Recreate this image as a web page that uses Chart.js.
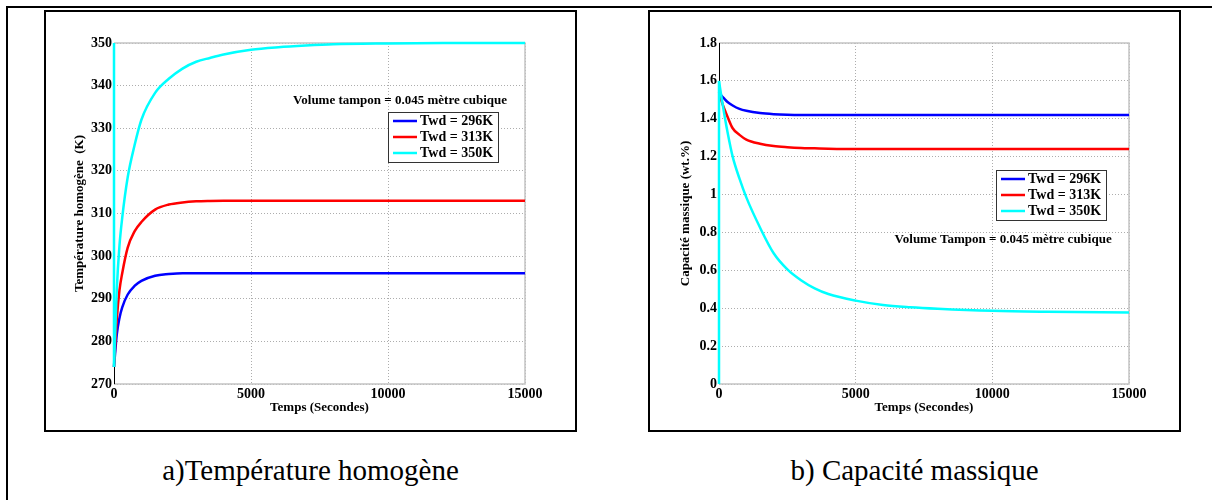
<!DOCTYPE html>
<html lang="fr">
<head>
<meta charset="utf-8">
<title>Température homogène et capacité massique</title>
<script src="https://cdn.jsdelivr.net/npm/chart.js@4.4.1/dist/chart.umd.min.js"></script>
<style>
  html, body { margin: 0; padding: 0; background: #fff; }
  #page { position: relative; width: 1212px; height: 500px; overflow: hidden; font-family: "Liberation Serif", "Times New Roman", serif; }
  .trait-haut { position: absolute; left: 6px; top: 6px; width: 1206px; height: 2px; background: #000; }
  .trait-gauche { position: absolute; left: 6px; top: 6px; width: 2px; height: 494px; background: #000; }
  .cadre { position: absolute; top: 10px; width: 533px; height: 422px; border: 2px solid #000; box-sizing: border-box; }
  .cadre canvas { position: absolute; left: 0; top: 0; }
  .legende { position: absolute; top: 454px; width: 533px; font-size: 29px; line-height: 32px; text-align: center; color: #000; }
</style>
</head>
<body>
<div id="page">
  <div class="trait-haut"></div>
  <div class="trait-gauche"></div>
  <div class="cadre" style="left:44px"><canvas id="temperature" width="529" height="418"></canvas></div>
  <div class="cadre" style="left:648px"><canvas id="capacite" width="529" height="418"></canvas></div>
  <div class="legende" style="left:44px">a)Température homogène</div>
  <div class="legende" style="left:648px">b) Capacité massique</div>
</div>
<script>
// temps (s) commun aux courbes
const temps = [0, 100, 200, 300, 500, 750, 1000, 1500, 2000, 2500, 3000, 3500, 4000, 5000, 6000, 7000, 8000, 10000, 12000, 15000];
const noms = ["Twd = 296K", "Twd = 313K", "Twd = 350K"];
const couleurs = ["#0000ff", "#ff0000", "#00ffff"];

// a) température homogène (K)
const temp296 = [274, 281.5, 285.5, 288, 291, 293, 294.2, 295.4, 295.8, 296, 296, 296, 296, 296, 296, 296, 296, 296, 296, 296];
const temp313 = [274, 285, 292, 296, 302, 305.8, 308, 310.9, 312.1, 312.6, 312.85, 312.95, 313, 313, 313, 313, 313, 313, 313, 313];
const temp350 = [274, 292, 302.5, 309, 318.5, 326, 332, 338.3, 341.6, 344, 345.6, 346.5, 347.3, 348.4, 349, 349.4, 349.7, 349.9, 350, 350];
const temp350Depart = [350, 274]; // trait vertical à t = 0

// b) capacité massique (wt.%)
const capa296 = [1.54, 1.52, 1.505, 1.49, 1.47, 1.452, 1.442, 1.43, 1.424, 1.421, 1.42, 1.42, 1.42, 1.42, 1.42, 1.42, 1.42, 1.42, 1.42, 1.42];
const capa313 = [1.54, 1.49, 1.45, 1.415, 1.35, 1.315, 1.29, 1.268, 1.256, 1.25, 1.246, 1.244, 1.242, 1.24, 1.24, 1.24, 1.24, 1.24, 1.24, 1.24];
const capa350 = [1.6, 1.506, 1.419, 1.339, 1.2, 1.084, 0.985, 0.826, 0.69, 0.605, 0.548, 0.505, 0.475, 0.44, 0.417, 0.405, 0.397, 0.386, 0.381, 0.377];
const capa350Depart = [0, 1.6];

const ticksTemps = [0, 5000, 10000, 15000];
const ticksTemp = [270, 280, 290, 300, 310, 320, 330, 340, 350];
const ticksCapa = [0, 0.2, 0.4, 0.6, 0.8, 1, 1.2, 1.4, 1.6, 1.8];

const policeGras = size => ({ family: '"Liberation Serif", "Times New Roman", serif', size: size, weight: 'bold' });

const cadrePlugin = {
    id: 'cadre',
    beforeDatasetsDraw(chart) {
        const { ctx, chartArea: a } = chart;
        ctx.save();
        ctx.strokeStyle = '#c4c4c4';
        ctx.lineWidth = 1.5;
        ctx.beginPath();
        ctx.moveTo(a.left, a.top);
        ctx.lineTo(a.right, a.top);
        ctx.lineTo(a.right, a.bottom);
        ctx.lineTo(a.left, a.bottom);
        ctx.stroke();
        ctx.strokeStyle = '#000';
        ctx.lineWidth = 1;
        ctx.beginPath();
        ctx.moveTo(a.left + 0.5, a.top);
        ctx.lineTo(a.left + 0.5, a.bottom);
        ctx.stroke();
        ctx.restore();
    },
    afterDatasetsDraw(chart, args, opts) {
        const { ctx, chartArea: a } = chart;
        const w = a.right - a.left, h = a.bottom - a.top;
        const bx = Math.round(a.left + opts.boiteX * w), by = Math.round(a.top + opts.boiteY * h);
        ctx.save();
        ctx.fillStyle = '#fff';
        ctx.fillRect(bx, by, 110, 50);
        ctx.strokeStyle = '#333';
        ctx.lineWidth = 1;
        ctx.strokeRect(bx + 0.5, by + 0.5, 110, 50);
        ctx.font = 'bold 14px "Liberation Serif"';
        ctx.textBaseline = 'middle';
        ctx.textAlign = 'left';
        noms.forEach((nom, i) => {
            const y = by + 9 + i * 16;
            ctx.strokeStyle = couleurs[i];
            ctx.lineWidth = 2.5;
            ctx.beginPath();
            ctx.moveTo(bx + 5, y);
            ctx.lineTo(bx + 29, y);
            ctx.stroke();
            ctx.fillStyle = '#000';
            ctx.fillText(nom, bx + 32, y);
        });
        ctx.font = 'bold 13px "Liberation Serif"';
        ctx.textAlign = 'center';
        ctx.fillText(opts.note, a.left + opts.noteX * w, a.top + opts.noteY * h);
        ctx.restore();
    }
};

function tracer(id, series, depart, yMin, yMax, yTicks, yTitre, yTitrePad, largeurY, cadre) {
    const courbes = series.map((valeurs, i) => ({
        label: noms[i],
        data: temps.map((t, k) => ({ x: t, y: valeurs[k] })),
        borderColor: couleurs[i],
        borderWidth: 2.5,
        pointRadius: 0,
        cubicInterpolationMode: 'monotone',
        clip: false,
    }));
    // cyan au-dessus : l'indice 0 est dessiné en dernier
    courbes.reverse();
    courbes.unshift({
        label: 'depart',
        data: depart.map(v => ({ x: 0, y: v })),
        borderColor: couleurs[2],
        borderWidth: 2.5,
        pointRadius: 0,
        clip: false,
    });

    new Chart(document.getElementById(id), {
        type: 'line',
        data: { datasets: courbes },
        options: {
            responsive: false,
            animation: false,
            layout: { padding: { left: 0, top: 31, right: 50, bottom: 6 } },
            plugins: { legend: { display: false }, tooltip: { enabled: false }, cadre: cadre },
            scales: {
                x: {
                    type: 'linear',
                    min: 0,
                    max: 15000,
                    afterBuildTicks: s => { s.ticks = ticksTemps.map(v => ({ value: v })); },
                    afterFit: s => { s.height = 40; },
                    ticks: { color: '#000', font: policeGras(14), padding: 2, maxRotation: 0, callback: v => String(v) },
                    grid: { color: 'rgba(0,0,0,0.32)', lineWidth: 1, drawTicks: false },
                    border: { display: false, dash: [1, 2] },
                    title: { display: true, text: 'Temps (Secondes)', color: '#000', font: policeGras(13), padding: { top: 0, bottom: 9 } },
                },
                y: {
                    min: yMin,
                    max: yMax,
                    afterBuildTicks: s => { s.ticks = yTicks.map(v => ({ value: v })); },
                    afterFit: s => { s.width = largeurY; },
                    ticks: { color: '#000', font: policeGras(14), padding: 2, callback: v => String(v) },
                    grid: { color: 'rgba(0,0,0,0.32)', lineWidth: 1, drawTicks: false },
                    border: { display: false, dash: [1, 2] },
                    title: { display: true, text: yTitre, color: '#000', font: policeGras(13), padding: { top: yTitrePad, bottom: 0 } },
                },
            },
        },
        plugins: [cadrePlugin],
    });
}

tracer('temperature', [temp296, temp313, temp350], temp350Depart, 270, 350, ticksTemp,
    'Température homogène  (K)', 26, 68,
    { boiteX: 0.667, boiteY: 0.202, noteX: 0.696, noteY: 0.170, note: 'Volume tampon = 0.045 mètre cubique' });

tracer('capacite', [capa296, capa313, capa350], capa350Depart, 0, 1.8, ticksCapa,
    'Capacité massique (wt.%)', 28, 69,
    { boiteX: 0.676, boiteY: 0.372, noteX: 0.693, noteY: 0.578, note: 'Volume Tampon = 0.045 mètre cubique' });
</script>
</body>
</html>
